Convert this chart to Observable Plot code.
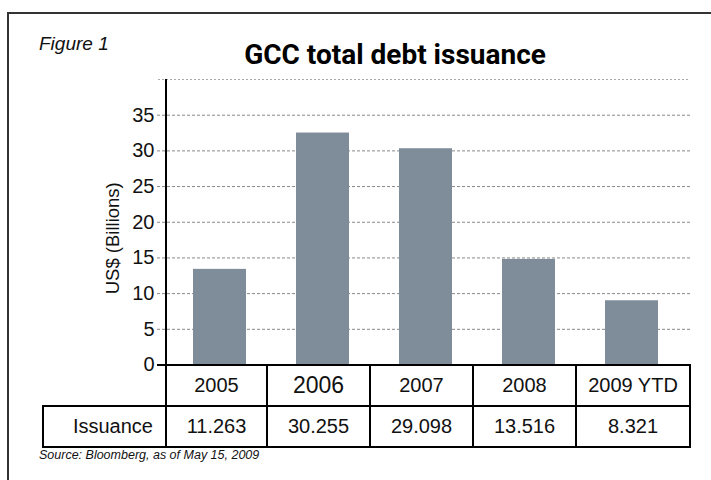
<!DOCTYPE html>
<html>
<head>
<meta charset="utf-8">
<script src="https://cdn.jsdelivr.net/npm/d3@7"></script>
<script src="https://cdn.jsdelivr.net/npm/@observablehq/plot@0.6"></script>
<style>
  body { margin: 0; background: #fff; }
  #page { position: relative; width: 711px; height: 480px; overflow: hidden;
          font-family: "Liberation Sans", Arial, sans-serif; color: #111; background:#fff; }
  #frame { position: absolute; left: 7px; top: 12px; width: 740px; height: 500px;
           border-top: 2px solid #333; border-left: 2px solid #333; }
  #fig { position: absolute; left: 39px; top: 34px; font-size: 19px; line-height: 1; font-style: italic; }
  #title { position: absolute; left: 0; width: 790px; top: 41px; text-align: center;
           font-family: Roboto, "Liberation Sans", sans-serif; font-weight: bold; font-size: 28px; line-height: 28px; color:#000; }
  #source { position: absolute; left: 39px; top: 449px; font-size: 12.5px; line-height: 1; font-style: italic; }
  #chart { position: absolute; left: 0; top: 0; }
  #yaxis { position: absolute; left: 165px; top: 79px; width: 2px; height: 369px; background: #000; }
  .cell { position: absolute; box-sizing: border-box; border: 2px solid #000;
          display: flex; align-items: center; justify-content: center; font-size: 20px; color:#111; background: transparent; }
</style>
</head>
<body>
<div id="page">
  <div id="frame"></div>
  <div id="chart"></div>
  <div id="fig">Figure 1</div>
  <div id="title">GCC total debt issuance</div>
  <div id="source">Source: Bloomberg, as of May 15, 2009</div>
  <div id="yaxis"></div>
</div>
<script>
// ---- data ----
const years = ["2005", "2006", "2007", "2008", "2009 YTD"];
const barValues = [13.4, 32.5, 30.3, 14.8, 9.0];          // bar heights
const issuance = ["11.263", "30.255", "29.098", "13.516", "8.321"]; // table row
const rowLabel = "Issuance";
const yTicks = [0, 5, 10, 15, 20, 25, 30, 35];
const yTop = [40];
const yLabel = "US$ (Billions)";

const data = years.map((year, i) => ({ year, value: barValues[i] }));

const chart = Plot.plot({
  width: 711,
  height: 385,
  marginTop: 79,
  marginBottom: 20.5,
  marginLeft: 166,
  marginRight: 26.5,
  style: { fontFamily: '"Liberation Sans", Arial, sans-serif', fontSize: "20px", color: "#111", background: "transparent" },
  x: { type: "band", domain: years, paddingInner: 0.49, paddingOuter: 0.245, axis: null },
  y: { domain: [0, 40], axis: null },
  marks: [
    Plot.ruleY(yTop, { stroke: "#aaa", strokeDasharray: "2,2", insetLeft: -8, insetRight: -5.5 }),
    Plot.ruleY(yTicks.filter(d => d > 0), { stroke: "#888", strokeDasharray: "3,2", insetLeft: -9, insetRight: -5.5 }),
    Plot.barY(data, { x: "year", y: "value", fill: "#7f8c9a" }),
    Plot.ruleY([0], { stroke: "#000", strokeWidth: 2, insetLeft: -9, insetRight: -5.5 }),
    Plot.axisY(yTicks, { tickSize: 0, tickPadding: 12, fontSize: 20, tickFormat: d => String(d), label: null }),
    Plot.text([yLabel], { frameAnchor: "left", textAnchor: "middle", dx: -53, dy: 16, rotate: -90, fontSize: 18.5, fill: "#111" })
  ]
});
document.getElementById("chart").appendChild(chart);

// ---- table under the chart ----
const page = document.getElementById("page");
const edges = [166, 267, 370, 473, 576, 690];
function cell(text, left, right, top, bottom, extra) {
  const d = document.createElement("div");
  d.className = "cell";
  d.textContent = text;
  d.style.left = (left - 1) + "px";
  d.style.width = (right - left + 2) + "px";
  d.style.top = (top - 1) + "px";
  d.style.height = (bottom - top + 2) + "px";
  if (extra) Object.assign(d.style, extra);
  page.appendChild(d);
}
years.forEach((y, i) => cell(y, edges[i], edges[i + 1], 364.5, 406, i === 1 ? { fontSize: "23px" } : null));
cell(rowLabel, 43, 166, 406, 447, { justifyContent: "flex-end", paddingRight: "12px" });
issuance.forEach((v, i) => cell(v, edges[i], edges[i + 1], 406, 447));
</script>
</body>
</html>
